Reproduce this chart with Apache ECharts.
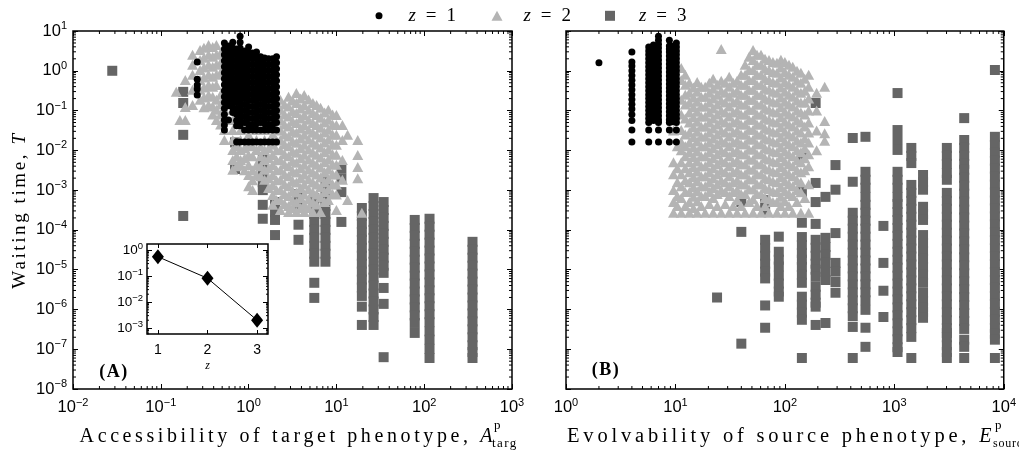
<!DOCTYPE html>
<html><head><meta charset="utf-8">
<script src="https://cdn.jsdelivr.net/npm/echarts@6/dist/echarts.min.js"></script>
<style>html,body{margin:0;padding:0;background:#fff}#c{width:1019px;height:452px}</style>
</head><body><div id="c"></div>
<script>
// ---------- DATA (x in real units, waiting time given as log10 T) ----------
const seriesNames = ['z = 1', 'z = 2', 'z = 3'];

// Panel A: accessibility of target phenotype vs waiting time
const circlesA = [
  [0.26, [0.22, -0.21, -0.36, -0.46, -0.61]],
  [0.53, [0.7, 0.55, 0.4, 0.25, 0.1, -0.05, -0.2, -0.35, -0.5, -0.65, -0.8, -0.95, -1.1, -1.24, -1.36, -1.49]],
  [0.59, [0.62, 0.47, 0.32, 0.17, 0.02, -0.13, -0.28, -0.43, -0.58, -0.73, -0.88, -1.24]],
  [0.66, [0.72, 0.57, 0.42, 0.27, 0.12, -0.03, -0.18, -0.33, -0.48, -0.63, -0.78, -0.93, -1.05]],
  [0.73, [0.55, 0.4, 0.25, 0.1, -0.05, -0.2, -0.35, -0.5, -0.65, -0.8, -0.95, -1.1, -1.25, -1.38, -1.79]],
  [0.80, [0.87, 0.72, 0.57, 0.42, 0.27, 0.12, -0.03, -0.18, -0.33, -0.48, -0.63, -0.78, -0.93, -1.08, -1.23, -1.38, -1.79]],
  [0.90, [0.5, 0.35, 0.2, 0.05, -0.1, -0.25, -0.4, -0.55, -0.7, -0.85, -1.0, -1.15, -1.3, -1.49, -1.79]],
  [1.0, [0.6, 0.45, 0.3, 0.15, 0.0, -0.15, -0.3, -0.45, -0.6, -0.75, -0.9, -1.05, -1.2, -1.35, -1.49, -1.79]],
  [1.11, [0.45, 0.3, 0.15, 0.0, -0.15, -0.3, -0.45, -0.6, -0.75, -0.9, -1.05, -1.2, -1.35, -1.49, -1.79]],
  [1.23, [0.47, 0.32, 0.17, 0.02, -0.13, -0.28, -0.43, -0.58, -0.73, -0.88, -1.03, -1.18, -1.33, -1.49, -1.79]],
  [1.37, [0.35, 0.2, 0.05, -0.1, -0.25, -0.4, -0.55, -0.7, -0.85, -1.0, -1.15, -1.3, -1.49, -1.79]],
  [1.52, [0.32, 0.17, 0.02, -0.13, -0.28, -0.43, -0.58, -0.73, -0.88, -1.03, -1.18, -1.33, -1.49, -1.79]],
  [1.69, [0.3, 0.15, 0.0, -0.15, -0.3, -0.45, -0.6, -0.75, -0.9, -1.05, -1.2, -1.35, -1.49, -1.79]],
  [1.88, [0.3, 0.15, 0.0, -0.15, -0.3, -0.45, -0.6, -0.75, -0.9, -1.05, -1.2, -1.35, -1.49, -1.79]],
  [2.08, [0.35, 0.2, 0.05, -0.1, -0.25, -0.4, -0.55, -0.7, -0.85, -1.0, -1.15, -1.3, -1.49, -1.79]]
];
const trianglesA = [
  [0.15, [-0.53]],
  [0.165, [-1.24]],
  [0.19, [-0.23, -0.91, -1.24]],
  [0.23, [0.4, 0.15, -0.1, -0.48, -0.86]],
  [0.28, [0.52, 0.27, 0.02, -0.23, -0.48, -0.73]],
  [0.31, [0.58, 0.33, 0.08, -0.17, -0.42, -0.67, -0.92]],
  [0.35, [0.65, 0.4, 0.15, -0.1, -0.36, -0.61, -0.86]],
  [0.39, [0.6, 0.35, 0.1, -0.15, -0.4, -0.65, -0.9, -1.1]],
  [0.43, [0.65, 0.4, 0.15, -0.1, -0.36, -0.73, -0.98, -1.24]],
  [0.48, [0.45, 0.2, -0.05, -0.6, -0.85, -1.1, -1.35]],
  [0.53, [0.27, 0.02, -0.73, -0.98, -1.24, -1.49, -1.74]],
  [0.66, [-0.98, -1.24, -1.49, -1.74, -1.99, -2.24, -2.49]],
  [0.73, [-1.9, -2.15, -2.4]],
  [0.81, [-1.24, -1.49, -1.74, -1.99, -2.24, -2.37]],
  [0.9, [-1.95, -2.2, -2.5]],
  [1.0, [-1.61, -1.86, -2.12, -2.37, -2.62, -2.9]],
  [1.11, [-1.9, -2.15, -2.5, -2.75, -3.0]],
  [1.23, [-1.49, -1.74, -1.99, -2.37, -2.62]],
  [1.37, [-1.9, -2.15, -2.4, -2.65]],
  [1.52, [-1.49, -1.74, -1.99, -2.24, -2.49, -2.74]],
  [1.69, [-1.95, -2.2, -2.45, -2.7, -2.95]],
  [1.88, [-0.86, -1.11, -1.36, -1.61, -1.86, -2.12, -2.37, -2.62, -2.87, -3.12, -3.37]],
  [2.08, [-1.0, -1.25, -1.5, -1.75, -2.0, -2.25, -2.5, -2.75, -3.0, -3.25]],
  [2.3, [-0.73, -0.98, -1.24, -1.49, -1.74, -1.99, -2.24, -2.49, -2.74, -3.0, -3.25, -3.5]],
  [2.57, [-0.85, -1.1, -1.35, -1.6, -1.85, -2.1, -2.35, -2.6, -2.85, -3.1, -3.35]],
  [2.85, [-0.65, -0.9, -1.15, -1.4, -1.65, -1.9, -2.15, -2.4, -2.65, -2.9, -3.15, -3.4, -3.55]],
  [3.17, [-0.75, -1.02, -1.27, -1.52, -1.77, -2.02, -2.27, -2.52, -2.77, -3.02, -3.27, -3.45]],
  [3.5, [-0.56, -0.81, -1.06, -1.31, -1.56, -1.81, -2.06, -2.31, -2.56, -2.81, -3.06, -3.31, -3.55]],
  [3.91, [-0.7, -0.95, -1.2, -1.45, -1.7, -1.95, -2.2, -2.45, -2.7, -2.95, -3.2, -3.45]],
  [4.3, [-0.61, -0.86, -1.11, -1.36, -1.61, -1.86, -2.11, -2.36, -2.61, -2.86, -3.11, -3.36, -3.55]],
  [4.82, [-0.72, -0.98, -1.23, -1.48, -1.73, -1.98, -2.23, -2.48, -2.73, -2.98, -3.23, -3.45]],
  [5.4, [-0.81, -1.06, -1.31, -1.56, -1.81, -2.06, -2.31, -2.56, -2.81, -3.06, -3.31, -3.55]],
  [5.95, [-0.86, -1.11, -1.36, -1.61, -1.86, -2.11, -2.36, -2.61, -2.86, -3.11, -3.36]],
  [6.6, [-0.93, -1.18, -1.43, -1.68, -1.93, -2.18, -2.43, -2.68, -2.93, -3.18, -3.55]],
  [7.34, [-1.05, -1.3, -1.55, -1.8, -2.05, -2.3, -2.55, -2.8, -3.05, -3.3]],
  [8.1, [-0.98, -1.23, -1.48, -1.73, -1.98, -2.23, -2.48, -2.73, -2.98, -3.25]],
  [9.05, [-1.1, -1.35, -1.6, -1.85, -2.1, -2.35, -2.6, -2.85, -3.1]],
  [10, [-1.11, -1.36, -1.61, -1.86, -2.11, -2.36, -2.61, -2.86, -3.11, -3.5]],
  [11.7, [-1.36, -1.74, -2.24, -2.74]],
  [13.4, [-1.61, -3.25]],
  [17.5, [-1.74, -2.12, -2.42, -2.7]],
  [19.5, [-3.57]]
];
const squaresA = [
  [0.028, [0.0]],
  [0.18, [-0.53, -0.81, -1.61, -3.65]],
  [0.7, [-1.8, -2.47]],
  [1.45, [-2.2, -2.4, -2.6, -2.8, -3.0, -3.37, -3.72]],
  [2.0, [-3.3, -3.55, -3.75, -4.13]],
  [3.7, [-3.1, -3.35, -3.87, -4.25]],
  [5.6, [-3.2, -3.4, -3.6, -3.8, -4.0, -4.2, -4.4, -4.6, -4.8, -5.33, -5.71]],
  [7.5, [-2.8, -3.0, -3.2, -3.4, -3.6, -3.8, -4.0, -4.2, -4.4, -4.6, -4.8]],
  [11.4, [-2.45, -2.7, -3.05, -3.8]],
  [19.5, [-3.45, -3.65, -3.85, -4.05, -4.25, -4.45, -4.65, -4.85, -5.05, -5.25, -5.45, -5.66, -5.93, -6.39]],
  [26.5, [-3.2, -3.4, -3.6, -3.8, -4.0, -4.2, -4.4, -4.6, -4.8, -5.0, -5.2, -5.4, -5.6, -5.8, -6.0, -6.19, -6.39]],
  [34.5, [-3.3, -3.5, -3.7, -3.9, -4.1, -4.3, -4.5, -4.7, -4.9, -5.08, -5.46, -5.86, -7.2]],
  [78, [-3.75, -3.95, -4.15, -4.35, -4.55, -4.75, -4.95, -5.15, -5.35, -5.55, -5.75, -5.95, -6.15, -6.34, -6.59]],
  [115, [-3.72, -3.92, -4.12, -4.32, -4.52, -4.72, -4.92, -5.12, -5.32, -5.52, -5.72, -5.92, -6.12, -6.32, -6.55, -6.76, -6.99, -7.22]],
  [355, [-4.3, -4.5, -4.7, -4.9, -5.1, -5.3, -5.5, -5.7, -5.9, -6.1, -6.3, -6.5, -6.7, -6.9, -7.07, -7.22]]
];

// Panel B: evolvability of source phenotype vs waiting time
const circlesB = [
  [2.0, [0.2]],
  [4.0, [0.47, 0.22, 0.12, 0.0, -0.12, -0.24, -0.36, -0.48, -0.6, -0.72, -0.84, -0.96, -1.1, -1.25, -1.49, -1.79]],
  [5.7, [0.6, 0.5, 0.4, 0.3, 0.2, 0.1, 0.0, -0.1, -0.2, -0.3, -0.4, -0.5, -0.6, -0.7, -0.8, -0.9, -1.0, -1.1, -1.2, -1.3, -1.49, -1.79]],
  [6.3, [0.65, 0.55, 0.45, 0.35, 0.25, 0.15, 0.05, -0.05, -0.15, -0.25, -0.35, -0.45, -0.55, -0.65, -0.75, -0.85, -0.95, -1.05, -1.15, -1.25]],
  [7.0, [0.87, 0.77, 0.67, 0.57, 0.47, 0.37, 0.27, 0.17, 0.07, -0.03, -0.13, -0.23, -0.33, -0.43, -0.53, -0.63, -0.73, -0.83, -0.93, -1.03, -1.13, -1.23, -1.3, -1.49, -1.79]],
  [8.8, [0.77, 0.62, 0.55, 0.47, 0.37, 0.27, 0.17, 0.07, -0.03, -0.13, -0.23, -0.33, -0.43, -0.53, -0.63, -0.73, -0.83, -0.93, -1.03, -1.13, -1.23, -1.3, -1.49, -1.79]],
  [9.5, [0.62, 0.52, 0.42, 0.32, 0.22, 0.12, 0.02, -0.08, -0.18, -0.28, -0.38, -0.48, -0.58, -0.68, -0.78, -0.88, -0.98, -1.08, -1.18, -1.28]],
  [10.2, [0.7, 0.6, 0.5, 0.4, 0.3, 0.2, 0.1, 0.0, -0.1, -0.2, -0.3, -0.4, -0.5, -0.6, -0.7, -0.8, -0.9, -1.0, -1.1, -1.2, -1.3, -1.49, -1.79]]
];
const trianglesB = [
  [9.6, [-1.5, -2.3, -2.6, -3.0, -3.3, -3.57]],
  [10.4, [-1.9, -2.45, -2.8, -3.15, -3.4]],
  [11.3, [0.07, -0.23, -0.73, -1.1, -1.49, -1.79, -2.0, -2.3, -2.6, -2.9, -3.2, -3.57]],
  [12.3, [-0.1, -0.35, -0.6, -0.85, -1.2, -1.6, -1.9, -2.15, -2.45, -2.75, -3.05, -3.4]],
  [13.4, [-0.3, -0.55, -0.8, -1.05, -1.3, -1.55, -1.8, -2.05, -2.3, -2.55, -2.8, -3.05, -3.3, -3.57]],
  [14.6, [-0.42, -0.67, -0.92, -1.17, -1.42, -1.67, -1.92, -2.17, -2.42, -2.67, -2.92, -3.17, -3.45]],
  [15.8, [-0.28, -0.53, -0.78, -1.03, -1.28, -1.53, -1.78, -2.03, -2.28, -2.53, -2.78, -3.03, -3.28, -3.57]],
  [17.2, [-0.4, -0.65, -0.9, -1.15, -1.4, -1.65, -1.9, -2.15, -2.4, -2.65, -2.9, -3.15, -3.4]],
  [18.7, [-0.4, -0.65, -0.9, -1.15, -1.4, -1.65, -1.9, -2.15, -2.4, -2.65, -2.9, -3.15, -3.57]],
  [20.4, [-0.3, -0.55, -0.8, -1.05, -1.3, -1.55, -1.8, -2.05, -2.3, -2.55, -2.8, -3.05, -3.35]],
  [22.1, [-0.2, -0.45, -0.7, -0.95, -1.2, -1.45, -1.7, -1.95, -2.2, -2.45, -2.7, -2.95, -3.2, -3.57]],
  [24.1, [-0.35, -0.6, -0.85, -1.1, -1.35, -1.6, -1.85, -2.1, -2.35, -2.6, -2.85, -3.1, -3.4]],
  [26.2, [0.55, -0.25, -0.5, -0.75, -1.0, -1.25, -1.5, -1.75, -2.0, -2.25, -2.5, -2.75, -3.0, -3.57]],
  [28.5, [-0.3, -0.55, -0.8, -1.05, -1.3, -1.55, -1.8, -2.05, -2.3, -2.55, -2.8, -3.05, -3.35]],
  [31.0, [-0.15, -0.4, -0.65, -0.9, -1.15, -1.4, -1.65, -1.9, -2.15, -2.4, -2.65, -2.9, -3.15, -3.57]],
  [33.7, [-0.3, -0.55, -0.8, -1.05, -1.3, -1.55, -1.8, -2.05, -2.3, -2.55, -2.8, -3.05, -3.4]],
  [36.6, [-0.25, -0.5, -0.75, -1.0, -1.25, -1.5, -1.75, -2.0, -2.25, -2.5, -2.75, -3.0, -3.25, -3.57]],
  [39.8, [-0.1, -0.35, -0.6, -0.85, -1.1, -1.35, -1.6, -1.85, -2.1, -2.35, -2.6, -2.85, -3.1, -3.4]],
  [43.3, [0.15, -0.1, -0.35, -0.6, -0.85, -1.1, -1.35, -1.6, -1.85, -2.1, -2.35, -2.6, -2.85, -3.1, -3.57]],
  [47.1, [0.35, 0.02, -0.23, -0.48, -0.73, -0.98, -1.23, -1.48, -1.73, -1.98, -2.23, -2.48, -2.73, -2.98, -3.3]],
  [51.2, [0.52, 0.27, 0.02, -0.23, -0.48, -0.73, -0.98, -1.23, -1.48, -1.73, -1.98, -2.23, -2.48, -2.73, -2.98, -3.23, -3.57]],
  [55.6, [0.4, 0.15, -0.1, -0.35, -0.6, -0.85, -1.1, -1.35, -1.6, -1.85, -2.1, -2.35, -2.6, -2.85, -3.1, -3.4]],
  [60.5, [0.4, 0.15, -0.1, -0.35, -0.6, -0.85, -1.1, -1.35, -1.6, -1.85, -2.1, -2.35, -2.6, -2.85, -3.1, -3.57]],
  [65.8, [0.3, 0.05, -0.2, -0.45, -0.7, -0.95, -1.2, -1.45, -1.7, -1.95, -2.2, -2.45, -2.7, -2.95, -3.2, -3.4]],
  [71.6, [0.27, 0.02, -0.23, -0.48, -0.73, -0.98, -1.23, -1.48, -1.73, -1.98, -2.23, -2.48, -2.73, -2.98, -3.23, -3.57]],
  [77.8, [0.22, -0.03, -0.28, -0.53, -0.78, -1.03, -1.28, -1.53, -1.78, -2.03, -2.28, -2.53, -2.78, -3.03, -3.3]],
  [84.6, [0.2, -0.05, -0.3, -0.55, -0.8, -1.05, -1.3, -1.55, -1.8, -2.05, -2.3, -2.55, -2.8, -3.05, -3.3, -3.57]],
  [92, [0.28, 0.08, -0.17, -0.42, -0.67, -0.92, -1.17, -1.42, -1.67, -1.92, -2.17, -2.42, -2.67, -2.92, -3.17, -3.4]],
  [100, [0.22, -0.03, -0.28, -0.53, -0.78, -1.03, -1.28, -1.53, -1.78, -2.03, -2.28, -2.53, -2.78, -3.03, -3.28, -3.57]],
  [109, [0.15, -0.1, -0.35, -0.6, -0.85, -1.1, -1.35, -1.6, -1.85, -2.1, -2.35, -2.6, -2.85, -3.1, -3.4]],
  [118, [0.1, -0.15, -0.4, -0.65, -0.9, -1.15, -1.4, -1.65, -1.9, -2.15, -2.4, -2.65, -2.9, -3.15, -3.57]],
  [129, [0.0, -0.25, -0.5, -0.75, -1.0, -1.25, -1.5, -1.75, -2.0, -2.25, -2.5, -2.75, -3.0, -3.3]],
  [140, [-0.05, -0.3, -0.55, -0.8, -1.05, -1.3, -1.55, -1.8, -2.05, -2.3, -2.55, -2.8, -3.05, -3.57]],
  [152, [-0.2, -0.5, -0.8, -1.1, -1.4, -1.7, -1.95, -2.2, -2.5, -3.2]],
  [165, [-0.1, -0.4, -0.7, -1.0, -1.3, -1.55, -1.8, -2.1, -2.4, -2.85, -3.57]],
  [195, [-0.55, -1.0, -1.5, -2.0]],
  [231, [-0.4, -1.26, -1.57, -1.76]]
];
const squaresB = [
  [24, [-5.7]],
  [40, [-3.3, -4.05, -6.86]],
  [66, [-3.25, -3.5, -4.25, -4.45, -4.65, -4.85, -5.05, -5.22, -5.9, -6.46]],
  [88, [-4.17, -4.55, -4.75, -4.92, -5.15, -5.35, -5.55, -5.68]],
  [143, [-2.17, -3.05, -3.82, -4.18, -4.38, -4.58, -4.75, -4.93, -5.13, -5.33, -5.68, -5.88, -6.08, -6.26, -7.22]],
  [191, [-0.81, -2.82, -3.3, -3.85, -4.25, -4.45, -4.65, -4.85, -5.0, -5.18, -5.43, -5.63, -5.83, -5.93, -6.39]],
  [235, [-3.17, -4.2, -4.43, -4.63, -4.83, -5.06, -5.26, -6.34]],
  [290, [-2.37, -2.99, -4.08, -4.83, -5.05, -5.31, -5.58]],
  [417, [-1.69, -2.79, -3.57, -3.77, -3.97, -4.17, -4.37, -4.57, -4.77, -4.97, -5.17, -5.37, -5.57, -5.77, -5.97, -6.17, -6.44, -7.22]],
  [545, [-1.66, -2.54, -2.74, -2.94, -3.17, -3.37, -3.57, -3.77, -3.97, -4.17, -4.37, -4.57, -4.77, -4.97, -5.17, -5.37, -5.57, -5.77, -6.01, -6.46, -6.94]],
  [795, [-3.9, -4.83, -5.53, -6.19]],
  [1070, [-0.56, -1.49, -1.74, -1.99, -2.54, -2.74, -2.94, -3.17, -3.35, -3.55, -3.75, -3.95, -4.15, -4.35, -4.55, -4.75, -4.95, -5.15, -5.35, -5.55, -5.75, -5.95, -6.15, -6.35, -6.55, -6.75, -6.95, -7.07]],
  [1430, [-1.94, -2.14, -2.32, -2.87, -3.07, -3.27, -3.47, -3.67, -3.87, -4.07, -4.27, -4.47, -4.67, -4.87, -5.07, -5.27, -5.47, -5.67, -5.87, -6.07, -6.27, -6.47, -6.69, -7.22]],
  [1830, [-2.62, -2.8, -2.99, -3.42, -3.6, -3.75, -4.13, -4.33, -4.53, -4.73, -4.93, -5.13, -5.33, -5.58, -5.78, -5.95, -6.06, -6.21]],
  [3020, [-1.94, -2.14, -2.34, -2.57, -2.74, -3.07, -3.27, -3.47, -3.67, -3.87, -4.07, -4.27, -4.47, -4.67, -4.87, -5.07, -5.27, -5.47, -5.67, -5.87, -6.07, -6.27, -6.47, -6.59, -6.7, -6.9, -7.07, -7.22]],
  [4350, [-1.19, -1.74, -1.94, -2.14, -2.34, -2.49, -2.69, -2.89, -3.09, -3.29, -3.49, -3.69, -3.89, -4.09, -4.29, -4.49, -4.69, -4.89, -5.09, -5.29, -5.49, -5.69, -5.89, -6.09, -6.29, -6.49, -6.76, -6.94, -7.22]],
  [8300, [0.02, -1.66, -1.86, -2.06, -2.26, -2.46, -2.66, -2.86, -3.06, -3.26, -3.46, -3.66, -3.86, -4.06, -4.26, -4.46, -4.66, -4.86, -5.06, -5.26, -5.46, -5.66, -5.86, -6.06, -6.26, -6.46, -6.61, -6.76, -7.22]]
];

// Inset: mean waiting time vs z
const insetZ = [1, 2, 3];
const insetT = [0.55, 0.082, 0.002];

// Tick labels (decade exponents)
const yTickExpMain = [-8, -7, -6, -5, -4, -3, -2, -1, 0, 1];
const xTickExpA = [-2, -1, 0, 1, 2, 3];
const xTickExpB = [0, 1, 2, 3, 4];
const yTickExpInset = [-3, -2, -1, 0];
const xTicksInset = [1, 2, 3];

// ---------- letter-spaced serif text (LaTeX-like look) ----------
const SPACING = { '20.5': '3.8px', '20': '3.6px', '19': '2.6px', '18': '1.5px', '13': '1.4px', '12': '0.8px' };
(function () {
  const P = CanvasRenderingContext2D.prototype;
  if (!('letterSpacing' in P)) return;
  ['fillText', 'strokeText', 'measureText'].forEach(name => {
    const orig = P[name];
    P[name] = function () {
      const f = this.font || '';
      let ls = '0px';
      if (/Liberation Serif/.test(f)) { const m = f.match(/([\d.]+)px/); if (m && SPACING[m[1]]) ls = SPACING[m[1]]; }
      if (this.letterSpacing !== ls) this.letterSpacing = ls;
      return orig.apply(this, arguments);
    };
  });
})();

// ---------- BUILD ----------
function pts(cols) { const out = []; cols.forEach(([x, ys]) => ys.forEach(e => out.push([x, Math.pow(10, e)]))); return out; }
function minorVals(e0, e1, lo, hi) { const out = []; for (let e = e0; e <= e1; e++) for (let k = 2; k <= 9; k++) { const v = k * Math.pow(10, e); if (v > lo && v < hi) out.push(v); } return out; }
const MINUS = '\u2212';
const supFmt = v => { const e = Math.round(Math.log10(v)); return '{b|10}{s|' + (e < 0 ? MINUS + (-e) : e) + '}'; };
const SANS = 'Liberation Sans';
const tickRich = { b: { fontSize: 16.5, fontFamily: SANS, color: '#000', lineHeight: 21 }, s: { fontSize: 11, fontFamily: SANS, color: '#000', verticalAlign: 'top', lineHeight: 21 } };
const tickRichSm = { b: { fontSize: 13.5, fontFamily: SANS, color: '#000', lineHeight: 17 }, s: { fontSize: 9.5, fontFamily: SANS, color: '#000', verticalAlign: 'top', lineHeight: 17 } };
const pw = arr => arr.map(e => Math.pow(10, e));

function logAxis(gi, min, max, pos, labels, tickVals, rich, margin) {
  return {
    type: 'log', logBase: 10, gridIndex: gi, min: min, max: max, position: pos,
    axisLine: { show: false }, splitLine: { show: false },
    axisTick: { show: true, inside: true, length: 5, lineStyle: { color: '#000', width: 1 }, customValues: tickVals },
    axisLabel: { show: labels, formatter: supFmt, rich: rich, margin: margin, customValues: tickVals, showMinLabel: true, showMaxLabel: true, hideOverlap: false }
  };
}

function minorSeries(xi, yi, dim, vals, ref, L) {
  return {
    type: 'custom', xAxisIndex: xi, yAxisIndex: yi, silent: true, clip: false, z: 5,
    data: vals.map(v => dim === 'y' ? [ref, v] : [v, ref]),
    renderItem(params, api) {
      const cs = params.coordSys;
      const p = api.coord([api.value(0), api.value(1)]);
      const st = { stroke: '#000', lineWidth: 1 };
      if (dim === 'y') {
        const y = p[1];
        return { type: 'group', children: [
          { type: 'line', shape: { x1: cs.x, y1: y, x2: cs.x + L, y2: y }, style: st },
          { type: 'line', shape: { x1: cs.x + cs.width - L, y1: y, x2: cs.x + cs.width, y2: y }, style: st }] };
      }
      const x = p[0];
      return { type: 'group', children: [
        { type: 'line', shape: { x1: x, y1: cs.y + cs.height - L, x2: x, y2: cs.y + cs.height }, style: st },
        { type: 'line', shape: { x1: x, y1: cs.y, x2: x, y2: cs.y + L }, style: st }] };
    }
  };
}

const COL = { c: '#000000', t: '#b4b4b4', s: '#656565' };
function scat(name, xi, yi, cols, symbol, size, color) {
  return { type: 'scatter', name: name, xAxisIndex: xi, yAxisIndex: yi, data: pts(cols), symbol: symbol, symbolSize: size,
    itemStyle: { color: color, opacity: 1 }, emphasis: { disabled: true } };
}

const SERIF = 'Liberation Serif';
const rich19 = { n: { fontFamily: SERIF, fontSize: 19, color: '#000' }, i: { fontFamily: SERIF, fontSize: 19, fontStyle: 'italic', color: '#000' } };
const rich20 = { n: { fontFamily: SERIF, fontSize: 20, color: '#000' }, i: { fontFamily: SERIF, fontSize: 20, fontStyle: 'italic', color: '#000' } };
const richB = { n: { fontFamily: SERIF, fontSize: 20.5, color: '#000' }, i: { fontFamily: SERIF, fontSize: 20, fontStyle: 'italic', color: '#000' } };

const gridA = { left: 73, top: 31, width: 439, height: 358 };
const gridB = { left: 566, top: 31, width: 440, height: 358 };
const gridI = { left: 147, top: 244, width: 121, height: 90 };
const gridStyle = { show: true, borderColor: '#000', borderWidth: 1.5, backgroundColor: '#fff' };

function legendItem(name, icon, left, w, h, gap) {
  return { data: [{ name: name, icon: icon }], left: left, top: 5, padding: 0, itemWidth: w, itemHeight: h, itemGap: 0, selectedMode: false,
    formatter: n => '{i|z} = ' + n.slice(-1),
    textStyle: { fontFamily: SERIF, fontSize: 19, color: '#000', rich: { i: { fontFamily: SERIF, fontSize: 19, fontStyle: 'italic', color: '#000', padding: [0, 0, 0, gap] } } } };
}

const option = {
  animation: false,
  backgroundColor: '#fff',
  grid: [Object.assign({}, gridA, gridStyle, { backgroundColor: 'transparent' }), Object.assign({}, gridB, gridStyle, { backgroundColor: 'transparent' }), Object.assign({}, gridI, gridStyle)],
  xAxis: [
    logAxis(0, 0.01, 1000, 'bottom', true, pw(xTickExpA), tickRich, 8),
    logAxis(0, 0.01, 1000, 'top', false, pw(xTickExpA), tickRich, 8),
    logAxis(1, 1, 10000, 'bottom', true, pw(xTickExpB), tickRich, 8),
    logAxis(1, 1, 10000, 'top', false, pw(xTickExpB), tickRich, 8),
    { type: 'value', gridIndex: 2, min: 0.78, max: 3.22, position: 'bottom', axisLine: { show: false }, splitLine: { show: false },
      axisTick: { inside: true, length: 4, lineStyle: { color: '#000' }, customValues: xTicksInset },
      axisLabel: { customValues: xTicksInset, fontFamily: SANS, fontSize: 14, color: '#000', margin: 9 } },
    { type: 'value', gridIndex: 2, min: 0.78, max: 3.22, position: 'top', axisLine: { show: false }, splitLine: { show: false },
      axisTick: { inside: true, length: 4, lineStyle: { color: '#000' }, customValues: xTicksInset }, axisLabel: { show: false } }
  ],
  yAxis: [
    logAxis(0, 1e-8, 10, 'left', true, pw(yTickExpMain), tickRich, 6),
    logAxis(0, 1e-8, 10, 'right', false, pw(yTickExpMain), tickRich, 6),
    logAxis(1, 1e-8, 10, 'left', false, pw(yTickExpMain), tickRich, 6),
    logAxis(1, 1e-8, 10, 'right', false, pw(yTickExpMain), tickRich, 6),
    logAxis(2, 5.9e-4, 1.7, 'left', true, pw(yTickExpInset), tickRichSm, 4),
    logAxis(2, 5.9e-4, 1.7, 'right', false, pw(yTickExpInset), tickRichSm, 4)
  ],
  legend: [
    legendItem(seriesNames[0], 'circle', 375.5, 7, 7, 21),
    legendItem(seriesNames[1], 'triangle', 491.5, 11, 10, 16),
    legendItem(seriesNames[2], 'rect', 605, 10, 10, 19)
  ],
  graphic: [
    { type: 'text', x: 20, y: 210, rotation: Math.PI / 2, style: { text: '{n|Waiting time, }{i|T}', rich: rich19, align: 'center', verticalAlign: 'middle' } },
    { type: 'text', x: 496, y: 437, style: { text: '{n|Accessibility of target phenotype, }{i|A}', rich: rich20, align: 'right', verticalAlign: 'middle' } },
    { type: 'text', x: 494, y: 426, style: { text: 'p', fontFamily: SERIF, fontSize: 13, fill: '#000', align: 'left', verticalAlign: 'middle' } },
    { type: 'text', x: 492, y: 444, style: { text: 'targ', fontFamily: SERIF, fontSize: 13, fill: '#000', align: 'left', verticalAlign: 'middle' } },
    { type: 'text', x: 995, y: 437, style: { text: '{n|Evolvability of source phenotype, }{i|E}', rich: richB, align: 'right', verticalAlign: 'middle' } },
    { type: 'text', x: 995, y: 426, style: { text: 'p', fontFamily: SERIF, fontSize: 13, fill: '#000', align: 'left', verticalAlign: 'middle' } },
    { type: 'text', x: 993, y: 444, style: { text: 'source', fontFamily: SERIF, fontSize: 12, fill: '#000', align: 'left', verticalAlign: 'middle' } },
    { type: 'text', x: 114, y: 372, style: { text: '(A)', fontFamily: SERIF, fontWeight: 'bold', fontSize: 18, fill: '#000', align: 'center', verticalAlign: 'middle' } },
    { type: 'text', x: 606, y: 370, style: { text: '(B)', fontFamily: SERIF, fontWeight: 'bold', fontSize: 18, fill: '#000', align: 'center', verticalAlign: 'middle' } },
    { type: 'text', x: 208, y: 366, style: { text: 'z', fontFamily: SERIF, fontStyle: 'italic', fontSize: 12, fill: '#000', align: 'center', verticalAlign: 'middle' } }
  ],
  series: [
    scat(seriesNames[2], 0, 0, squaresA, 'rect', 10, COL.s),
    scat(seriesNames[1], 0, 0, trianglesA, 'triangle', [11, 10], COL.t),
    scat(seriesNames[0], 0, 0, circlesA, 'circle', 7, COL.c),
    scat(seriesNames[2], 2, 2, squaresB, 'rect', 10, COL.s),
    scat(seriesNames[1], 2, 2, trianglesB, 'triangle', [11, 10], COL.t),
    scat(seriesNames[0], 2, 2, circlesB, 'circle', 7, COL.c),
    { type: 'line', xAxisIndex: 4, yAxisIndex: 4, data: insetZ.map((z, i) => [z, insetT[i]]), symbol: 'diamond', symbolSize: [12, 15],
      lineStyle: { color: '#000', width: 1 }, itemStyle: { color: '#000' }, emphasis: { disabled: true }, z: 6 },
    minorSeries(0, 0, 'y', minorVals(-8, 0, 1e-8, 10), 1, 3),
    minorSeries(0, 0, 'x', minorVals(-2, 2, 0.01, 1000), 1, 3),
    minorSeries(2, 2, 'y', minorVals(-8, 0, 1e-8, 10), 10, 3),
    minorSeries(2, 2, 'x', minorVals(0, 3, 1, 10000), 1, 3),
    minorSeries(4, 4, 'y', minorVals(-4, 0, 5.9e-4, 1.7), 2, 2)
  ]
};
const chart = echarts.init(document.getElementById('c'), null, { renderer: 'canvas' });
chart.setOption(option);
</script>
</body></html>
